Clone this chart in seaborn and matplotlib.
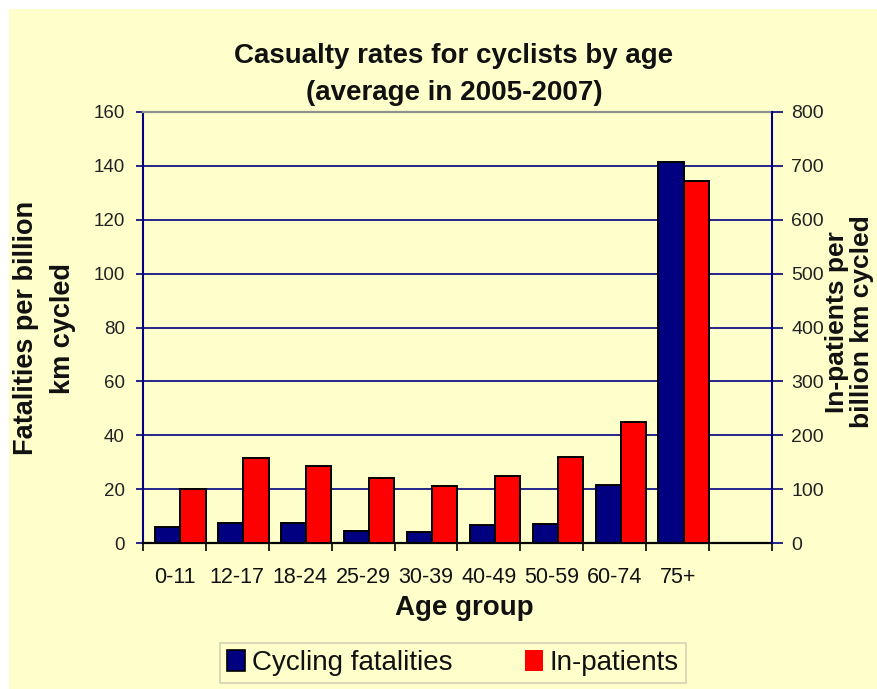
import numpy as np
import pandas as pd
import matplotlib
matplotlib.use("Agg")
import matplotlib.pyplot as plt
import matplotlib.transforms as mtransforms
from matplotlib.patches import Rectangle, Patch
import seaborn as sns

# ---- data ----
age_groups = ["0-11", "12-17", "18-24", "25-29", "30-39", "40-49", "50-59", "60-74", "75+"]
fatalities = [6, 7.5, 7.5, 4.5, 4, 6.5, 7, 21.5, 141.5]
inpatients = [101, 157, 143, 120, 105, 124, 160, 224, 672]
series_names = ["Cycling fatalities", "In-patients"]
left_ticks = [0, 20, 40, 60, 80, 100, 120, 140, 160]
right_ticks = [0, 100, 200, 300, 400, 500, 600, 700, 800]

NAVY = "#000080"
RED = "#FF0000"
BG = "#FFFFCC"
TXT = "#111111"

sns.set_theme(style="white")
plt.rcParams["font.family"] = ["Liberation Sans", "DejaVu Sans"]

df_fat = pd.DataFrame({"age": age_groups, "series": series_names[0], "value": fatalities})
df_inp = pd.DataFrame({"age": age_groups, "series": series_names[1], "value": inpatients})
# For each axis, the other series is NaN so bars dodge side by side
df_left = pd.concat([df_fat, df_inp.assign(value=np.nan)], ignore_index=True)
df_right = pd.concat([df_fat.assign(value=np.nan), df_inp], ignore_index=True)

fig = plt.figure(figsize=(8.78, 6.89), dpi=100, facecolor="white")
fig.patches.append(Rectangle((9 / 878, 0), 1, (689 - 9) / 689, transform=fig.transFigure,
                             facecolor=BG, edgecolor="none", zorder=-10))

ax = fig.add_axes([143 / 878, 1 - 543 / 689, (772 - 143) / 878, (543 - 112) / 689])
ax.set_facecolor(BG)
ax2 = ax.twinx()

palette = {series_names[0]: NAVY, series_names[1]: RED}
sns.barplot(data=df_left, x="age", y="value", hue="series", hue_order=series_names,
            order=age_groups, palette=palette, ax=ax, legend=False, errorbar=None,
            width=0.8, saturation=1, edgecolor="black", linewidth=1.4)
sns.barplot(data=df_right, x="age", y="value", hue="series", hue_order=series_names,
            order=age_groups, palette=palette, ax=ax2, legend=False, errorbar=None,
            width=0.8, saturation=1, edgecolor="black", linewidth=1.4)

for a in (ax, ax2):
    a.set_xlim(-0.5, len(age_groups) + 0.5)
    a.set_xlabel("")
    a.set_ylabel("")

ax.set_ylim(0, 160)
ax2.set_ylim(0, 800)
ax.set_yticks(left_ticks)
ax2.set_yticks(right_ticks)

# Excel-style slight rightward offset of the bar groups within each slot
shift = mtransforms.ScaledTranslation(6 / 100, 0, fig.dpi_scale_trans)
for a in (ax, ax2):
    for p in a.patches:
        p.set_transform(a.transData + shift)

ax.set_axisbelow(True)
ax.yaxis.grid(True, color=NAVY, linewidth=1.2)
ax.xaxis.grid(False)
ax2.grid(False)

# x ticks: labels at centres, tick marks at slot boundaries
ax.set_xticks(range(len(age_groups)))
ax.set_xticklabels(age_groups)
ax.set_xticks(np.arange(-0.5, len(age_groups) + 1.0, 1.0), minor=True)
ax.tick_params(axis="x", which="major", length=0, pad=17, labelsize=15.5, labelcolor=TXT)
ax.tick_params(axis="x", which="minor", length=6, width=1.2, color="black", direction="out", bottom=True)
ax.tick_params(axis="y", left=True, length=5, width=1.2, color=NAVY, direction="out",
               pad=8, labelsize=13.5, labelcolor="#222222")
ax2.tick_params(axis="y", right=True, length=8, width=1.2, color=NAVY, direction="out",
                pad=6, labelsize=14, labelcolor="#222222")
ax2.tick_params(axis="x", bottom=False, labelbottom=False)

ax.spines["left"].set_color(NAVY)
ax.spines["left"].set_linewidth(1.5)
ax.spines["bottom"].set_color("black")
ax.spines["bottom"].set_linewidth(1.6)
ax.spines["top"].set_color("#909090")
ax.spines["top"].set_linewidth(1.6)
ax.spines["right"].set_visible(False)
ax2.spines["right"].set_color(NAVY)
ax2.spines["right"].set_linewidth(1.5)
for s in ("left", "top", "bottom"):
    ax2.spines[s].set_visible(False)

# titles and labels
fig.text(454 / 878, 1 - 56 / 689, "Casualty rates for cyclists by age",
         ha="center", va="center", fontsize=20, fontweight="bold", color=TXT)
fig.text(454 / 878, 1 - 93 / 689, "(average in 2005-2007)",
         ha="center", va="center", fontsize=20, fontweight="bold", color=TXT)
fig.text(26 / 878, 1 - 328 / 689, "Fatalities per billion", rotation=90,
         ha="center", va="center", fontsize=19.5, fontweight="bold", color=TXT)
fig.text(63 / 878, 1 - 328 / 689, "km cycled", rotation=90,
         ha="center", va="center", fontsize=19.5, fontweight="bold", color=TXT)
fig.text(837 / 878, 1 - 322 / 689, "In-patients per", rotation=90,
         ha="center", va="center", fontsize=19, fontweight="bold", color=TXT)
fig.text(862 / 878, 1 - 322 / 689, "billion km cycled", rotation=90,
         ha="center", va="center", fontsize=19, fontweight="bold", color=TXT)
fig.text(464 / 878, 1 - 608 / 689, "Age group", ha="center", va="center",
         fontsize=20, fontweight="bold", color=TXT)

handles = [Patch(facecolor=NAVY, edgecolor="black", linewidth=1.2),
           Patch(facecolor=RED, edgecolor="none")]
leg = fig.legend(handles, series_names, loc="center", bbox_to_anchor=(453 / 878, 1 - 663 / 689),
                 ncol=2, fontsize=20, frameon=True, fancybox=False, edgecolor="#C8C8B0",
                 facecolor=BG, handlelength=0.65, handleheight=0.8, handletextpad=0.25,
                 columnspacing=2.6, borderpad=0.25)
leg.get_frame().set_linewidth(1.2)
for t in leg.get_texts():
    t.set_color(TXT)

fig.savefig("out.png", dpi=100, facecolor=fig.get_facecolor())
